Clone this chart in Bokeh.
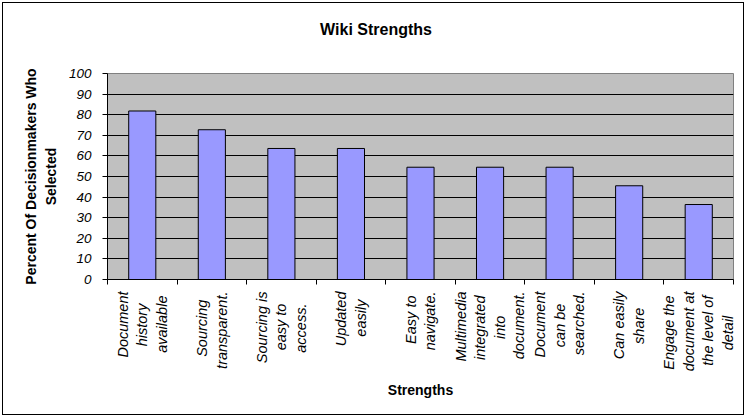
import math
from bokeh.plotting import figure
from bokeh.models import FixedTicker, Range1d, ColumnDataSource, LinearAxis
from bokeh.embed import file_html
from bokeh.resources import INLINE

# ---- data ----
title_text = "Wiki Strengths"
y_title = "Percent Of Decisionmakers Who\nSelected"
x_title = "Strengths"
tick_labels = [
    "Document\nhistory\navailable",
    "Sourcing\ntransparent.",
    "Sourcing is\neasy to\naccess.",
    "Updated\neasily",
    "Easy to\nnavigate.",
    "Multimedia\nintegrated\ninto\ndocument.",
    "Document\ncan be\nsearched.",
    "Can easily\nshare",
    "Engage the\ndocument at\nthe level of\ndetail",
]
values = [81.8, 72.7, 63.6, 63.6, 54.5, 54.5, 54.5, 45.5, 36.4]
y_ticks = [0, 10, 20, 30, 40, 50, 60, 70, 80, 90, 100]

# ---- layout / style ----
FONT = "Liberation Sans"
W, H = 742, 413
BL, BR, BT, BB = 104, 12, 70, 137          # borders around the plot area
LABEL_PX = 14.5
TITLE_PX = 16
LINE_GAP = 19.5                              # px between wrapped label lines
TITLE_SHIFT_PX = 45                          # title sits this far left of the plot-area centre
NBSP = "\u00a0"

# Arial / Liberation Sans advance widths (1/1000 em), used to centre wrapped lines
_W = dict(a=556, b=556, c=500, d=556, e=556, f=278, g=556, h=556, i=222, j=222,
          k=500, l=222, m=833, n=556, o=556, p=556, q=556, r=333, s=500, t=278,
          u=556, v=500, w=722, x=500, y=500, z=500)
_W.update({" ": 278, ".": 278, "D": 722, "S": 667, "U": 722, "E": 667, "M": 833, "C": 722})


def text_len(s):
    return sum(_W.get(ch, 556) for ch in s) / 1000.0 * LABEL_PX


n = len(values)
centers = [i + 0.5 for i in range(n)]
boundaries = list(range(n + 1))
px_per_unit = (W - BL - BR) / n

# one axis tick per wrapped line; short lines padded so each block's lines are centred
line_ticks, line_text = [], {}
nb_w = 278 / 1000.0 * LABEL_PX
for c, lab in zip(centers, tick_labels):
    lines = lab.split("\n")
    m = len(lines)
    block = max(text_len(s) for s in lines)
    for j, s in enumerate(lines):
        t = round(c + (j - (m - 1) / 2.0) * LINE_GAP / px_per_unit, 4)
        pad = int(round((block - text_len(s)) / 2.0 / nb_w))
        line_ticks.append(t)
        line_text[t] = s + NBSP * pad

src = ColumnDataSource(dict(x=centers, top=values))

p = figure(width=W, height=H, x_range=Range1d(0, n), y_range=Range1d(0, 100),
           output_backend="svg", toolbar_location=None,
           min_border_left=BL, min_border_right=BR, min_border_top=BT, min_border_bottom=BB)
p.styles = {"border": "1px solid black", "margin": "2px 0 0 2px"}

xa = p.below[0]
ya = p.left[0]

p.background_fill_color = "#C0C0C0"
p.border_fill_color = "white"
p.outline_line_color = "#808080"
p.outline_line_width = 1

p.vbar(x="x", top="top", bottom=0, width=0.39, source=src,
       fill_color="#9999FF", line_color="black", line_width=1)

# chart title: label of a bare axis above the plot; trailing no-break spaces move it left
title_pad = int(round(2 * TITLE_SHIFT_PX / (278 / 1000.0 * TITLE_PX)))
title_axis = LinearAxis(ticker=FixedTicker(ticks=[]),
                        axis_line_color=None, major_tick_line_color=None,
                        minor_tick_line_color=None, major_tick_out=0, minor_tick_out=0,
                        major_label_text_font_size="0px",
                        axis_label=title_text + NBSP * title_pad, axis_label_standoff=36,
                        axis_label_text_font=FONT, axis_label_text_font_size=f"{TITLE_PX}px",
                        axis_label_text_font_style="bold", axis_label_text_color="black")
p.add_layout(title_axis, "above")

# grid
p.xgrid.visible = False
p.ygrid.ticker = FixedTicker(ticks=y_ticks)
p.ygrid.grid_line_color = "black"
p.ygrid.grid_line_width = 1

# y axis
ya.ticker = FixedTicker(ticks=y_ticks)
ya.axis_line_color = "black"
ya.major_tick_line_color = "black"
ya.major_tick_out = 5
ya.major_tick_in = 0
ya.minor_tick_line_color = None
ya.major_label_text_font = FONT
ya.major_label_text_font_size = "13.5px"
ya.major_label_text_font_style = "italic"
ya.major_label_text_color = "black"
ya.major_label_standoff = 11
ya.axis_label = y_title
ya.axis_label_text_font = FONT
ya.axis_label_text_font_size = "14px"
ya.axis_label_text_font_style = "bold"
ya.axis_label_text_color = "black"
ya.axis_label_text_line_height = 1.25
ya.axis_label_standoff = 7

# x axis: ticks at category boundaries, one rotated label per wrapped line
xa.ticker = FixedTicker(ticks=line_ticks, minor_ticks=boundaries)
xa.major_label_overrides = line_text
xa.axis_line_color = "black"
xa.major_tick_line_color = None
xa.major_tick_out = 5
xa.major_tick_in = 0
xa.minor_tick_line_color = "black"
xa.minor_tick_out = 5
xa.minor_tick_in = 0
xa.major_label_orientation = math.pi / 2
xa.major_label_text_font = FONT
xa.major_label_text_font_size = f"{LABEL_PX}px"
xa.major_label_text_font_style = "italic"
xa.major_label_text_color = "black"
xa.major_label_standoff = 7
xa.axis_label = x_title
xa.axis_label_text_font = FONT
xa.axis_label_text_font_size = "14px"
xa.axis_label_text_font_style = "bold"
xa.axis_label_text_color = "black"
xa.axis_label_standoff = 8

open("out.html", "w").write(file_html(p, INLINE))
